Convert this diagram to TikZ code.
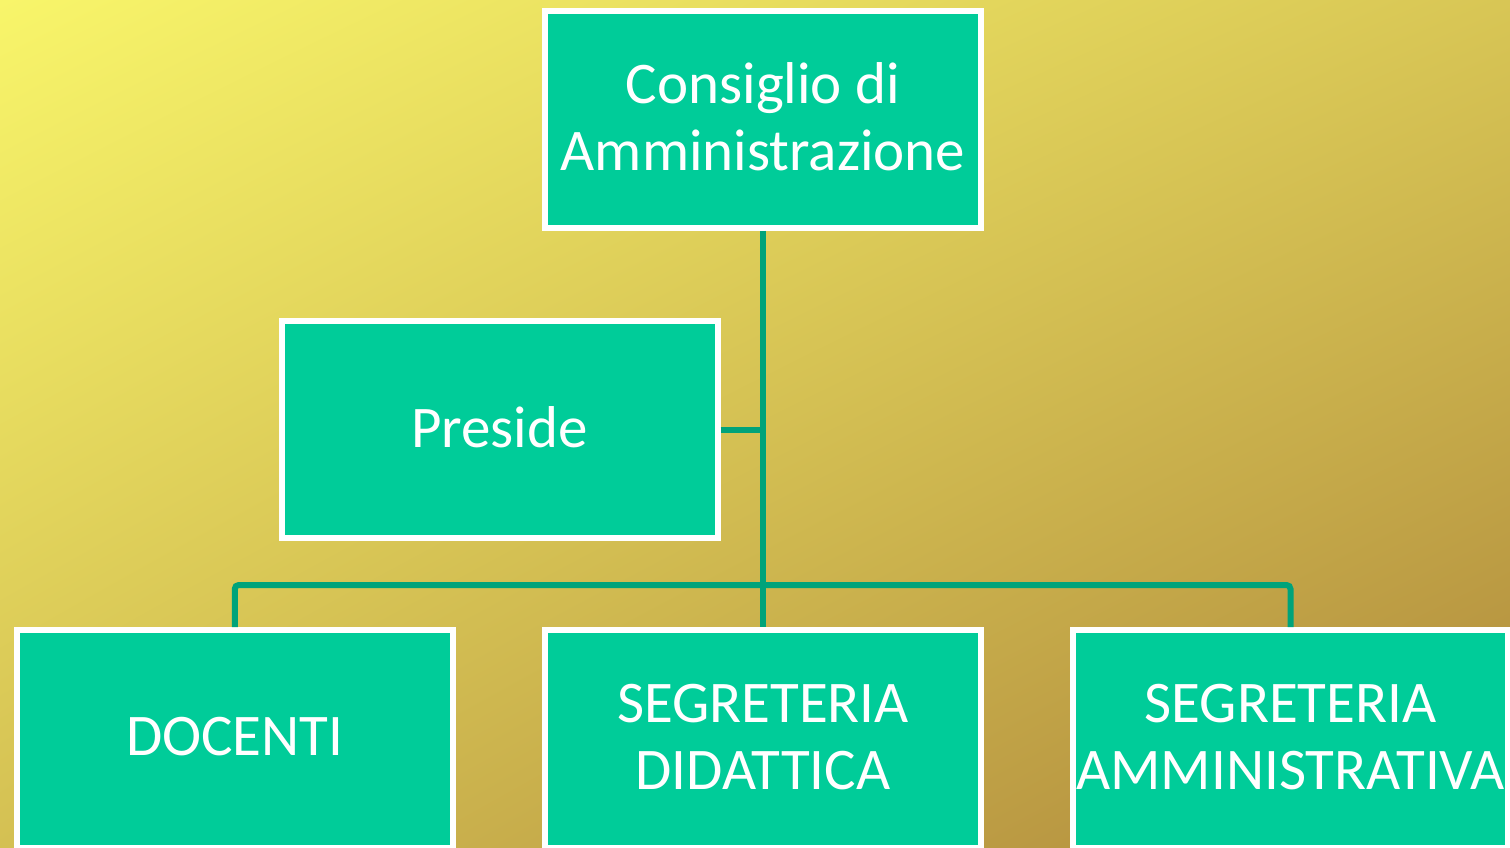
\documentclass[tikz,border=0pt]{standalone}
\usepackage{fontspec}
\setmainfont{Carlito}
\usetikzlibrary{shadings}
\definecolor{bgTL}{HTML}{F8F56A}
\definecolor{bgTR}{HTML}{D8C655}
\definecolor{bgBL}{HTML}{D4C053}
\definecolor{bgBR}{HTML}{AE873B}
\definecolor{boxfill}{HTML}{00CC99}
\definecolor{linkcol}{HTML}{00A37A}
\tikzset{
  orgbox/.style={draw=white, line width=6pt, fill=boxfill, rectangle,
    minimum width=436pt, minimum height=217pt, inner sep=0pt},
  boxtext/.style={text=white, align=center, inner sep=0pt,
    font=\fontsize{59}{67}\selectfont},
  link/.style={draw=linkcol, line width=6pt}
}
\begin{document}
\begin{tikzpicture}[x=1pt,y=1pt]
\useasboundingbox (0,0) rectangle (1510,847);
\shade[upper left=bgTL, upper right=bgTR, lower left=bgBL, lower right=bgBR] (0,0) rectangle (1510,847);
\coordinate (bus) at (763,262);
\node[orgbox] (top) at (763,727.5) {};
\node[orgbox] (pre) at (499.5,417) {};
\node[orgbox, minimum height=218pt] (doc) at (234.75,108) {};
\node[orgbox, minimum height=218pt] (did) at (763,108) {};
\node[orgbox, minimum height=218pt, minimum width=435pt] (amm) at (1290.5,108) {};
\node[boxtext] (toptxt) at ([yshift=3pt]top.center) {Consiglio di\\Amministrazione};
\node[boxtext] (pretxt) at ([yshift=3pt]pre.center) {Preside};
\node[boxtext] (doctxt) at ([yshift=2pt]doc.center) {DOCENTI};
\node[boxtext] (didtxt) at ([yshift=2pt]did.center) {SEGRETERIA\\DIDATTICA};
\node[boxtext] (ammtxt) at ([yshift=2pt]amm.center) {SEGRETERIA\\AMMINISTRATIVA};
\draw[link] (top.south) -- (did.north);
\draw[link] (pre.east) -- (pre.east -| top.south);
\draw[link, rounded corners=4pt] (doc.north) |- (bus) -| (amm.north);
\end{tikzpicture}
\end{document}
